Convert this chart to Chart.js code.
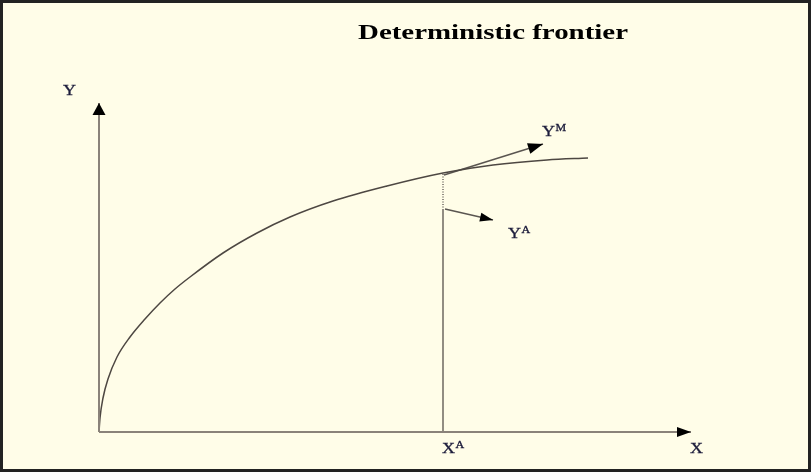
<!DOCTYPE html>
<html>
<head>
<meta charset="utf-8">
<script src="https://cdn.jsdelivr.net/npm/chart.js@4"></script>
<style>
  body { margin: 0; background: #fffde8; }
  canvas { display: block; }
</style>
</head>
<body>
<canvas id="chart" width="811" height="472"></canvas>
<script>
// frontier curve (origin = 0,0)
const curveX = [0, 1, 4, 9, 18, 31, 46, 61, 76, 91, 124, 158, 191, 234, 288, 344, 394, 448, 489];
const curveY = [0, 14, 34, 53, 75, 95, 113, 129, 143, 155, 179, 199, 215, 231, 246, 259, 267, 272, 274];

// axes ends
const xAxisEnd = 592;
const yAxisEnd = 329;

// observed firm A
const xA = 344;
const yAObs = 222;      // top of solid line
const yAFront = 259;    // frontier value at xA

// arrows [x0, y0, x1, y1]
const arrowM = [345, 257, 444, 288];
const arrowA = [346, 223, 394, 212];

// labels [text, sup, x, y]
const labels = [
  ['Y', '', -36, 337],
  ['X', '', 591, -21],
  ['X', 'A', 343, -21],
  ['Y', 'M', 443, 296],
  ['Y', 'A', 409, 194]
];
const titleText = 'Deterministic frontier';

const axisColor = '#8a8279';
const lineColor = '#4d4742';

const pts = (xs, ys) => xs.map((x, i) => ({x: x, y: ys[i]}));

const bgPlugin = {
  id: 'bg',
  beforeDraw(chart) {
    const c = chart.ctx;
    c.save();
    c.fillStyle = '#fffde8';
    c.fillRect(0, 0, chart.width, chart.height);
    c.restore();
  },
  afterDraw(chart) {
    const c = chart.ctx;
    const sx = chart.scales.x, sy = chart.scales.y;
    c.save();
    // arrowheads on the datasets that ask for one
    chart.data.datasets.forEach((ds, i) => {
      if (!ds.arrow) return;
      const d = chart.getDatasetMeta(i).data;
      const p1 = d[d.length - 1], p0 = d[d.length - 2];
      const ang = Math.atan2(p1.y - p0.y, p1.x - p0.x);
      const len = ds.arrow[0], half = ds.arrow[1] / 2;
      c.fillStyle = '#000';
      c.beginPath();
      c.moveTo(p1.x, p1.y);
      c.lineTo(p1.x - len * Math.cos(ang) + half * Math.sin(ang), p1.y - len * Math.sin(ang) - half * Math.cos(ang));
      c.lineTo(p1.x - len * Math.cos(ang) - half * Math.sin(ang), p1.y - len * Math.sin(ang) + half * Math.cos(ang));
      c.closePath();
      c.fill();
    });
    // labels (the picture is stretched sideways, so the text is too)
    c.fillStyle = '#1b1b3a';
    c.strokeStyle = '#1b1b3a';
    c.lineWidth = 0.3;
    c.textBaseline = 'alphabetic';
    labels.forEach(l => {
      const px = sx.getPixelForValue(l[2]), py = sy.getPixelForValue(l[3]);
      c.save();
      c.translate(px, py);
      c.scale(1.2, 1);
      c.font = '15px "Liberation Serif", serif';
      c.fillText(l[0], 0, 0);
      c.strokeText(l[0], 0, 0);
      if (l[1]) {
        const w = c.measureText(l[0]).width;
        c.font = '10px "Liberation Serif", serif';
        c.fillText(l[1], w + 0.5, -5);
        c.strokeText(l[1], w + 0.5, -5);
      }
      c.restore();
    });
    // title
    c.save();
    c.fillStyle = '#000';
    c.font = 'bold 22px "Liberation Serif", serif';
    const tw = c.measureText(titleText).width;
    c.translate(358, 39);
    c.scale(270 / tw, 1);
    c.fillText(titleText, 0, 0);
    c.restore();
    // frame
    c.strokeStyle = '#222';
    c.lineWidth = 3;
    c.strokeRect(1.5, 1.5, chart.width - 3, chart.height - 3);
    c.restore();
  }
};

new Chart(document.getElementById('chart'), {
  type: 'scatter',
  data: {
    datasets: [
      {data: pts([0, xAxisEnd], [0, 0]), showLine: true, borderColor: axisColor, borderWidth: 2, pointRadius: 0, arrow: [14, 10]},
      {data: pts([0, 0], [0, yAxisEnd]), showLine: true, borderColor: axisColor, borderWidth: 2, pointRadius: 0, arrow: [12, 13]},
      {data: pts(curveX, curveY), showLine: true, borderColor: lineColor, borderWidth: 1.5, pointRadius: 0, cubicInterpolationMode: 'monotone'},
      {data: pts([xA, xA], [0, yAObs]), showLine: true, borderColor: '#6e6761', borderWidth: 1.5, pointRadius: 0},
      {data: pts([xA, xA], [yAObs, yAFront]), showLine: true, borderColor: '#6e6761', borderWidth: 1.5, borderDash: [1, 1.5], pointRadius: 0},
      {data: pts([arrowM[0], arrowM[2]], [arrowM[1], arrowM[3]]), showLine: true, borderColor: '#5a5550', borderWidth: 1.5, pointRadius: 0, arrow: [15, 11]},
      {data: pts([arrowA[0], arrowA[2]], [arrowA[1], arrowA[3]]), showLine: true, borderColor: '#5a5550', borderWidth: 1.5, pointRadius: 0, arrow: [13, 9]}
    ]
  },
  options: {
    responsive: false,
    animation: false,
    clip: false,
    layout: {padding: {left: 99, right: 112, top: 92, bottom: 40}},
    plugins: {legend: {display: false}, tooltip: {enabled: false}},
    scales: {
      x: {type: 'linear', min: 0, max: 600, display: false},
      y: {type: 'linear', min: 0, max: 340, display: false}
    }
  },
  plugins: [bgPlugin]
});
</script>
</body>
</html>
